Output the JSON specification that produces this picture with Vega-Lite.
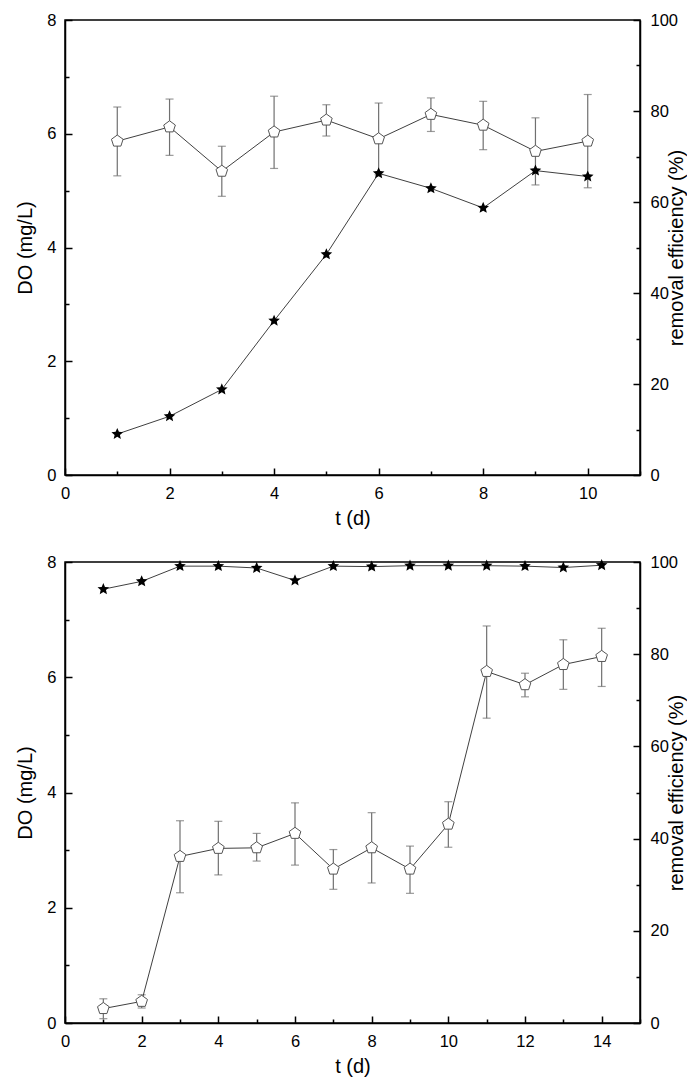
{
  "$schema": "https://vega.github.io/schema/vega-lite/v6.json",
  "padding": {"left": 14, "top": 11, "right": 0, "bottom": 0},
  "background": "white",
  "config": {
    "font": "Liberation Sans",
    "view": {"stroke": "black", "strokeWidth": 1.5},
    "axis": {
      "grid": false,
      "domainColor": "black",
      "domainWidth": 1.5,
      "tickColor": "black",
      "tickWidth": 1.5,
      "labelColor": "black",
      "labelFontSize": 16.5,
      "titleColor": "black",
      "titleFontSize": 20,
      "titleFontWeight": "normal",
      "labelFlush": false,
      "labelOverlap": false,
      "format": "d"
    }
  },
  "datasets": {
    "a": [
      {"t": 1, "DO": 5.87, "lo": 5.26, "hi": 6.47, "RE": 9.0},
      {"t": 2, "DO": 6.12, "lo": 5.62, "hi": 6.61, "RE": 12.9},
      {"t": 3, "DO": 5.34, "lo": 4.90, "hi": 5.78, "RE": 18.8},
      {"t": 4, "DO": 6.03, "lo": 5.39, "hi": 6.66, "RE": 33.9},
      {"t": 5, "DO": 6.24, "lo": 5.96, "hi": 6.51, "RE": 48.5},
      {"t": 6, "DO": 5.91, "lo": 5.28, "hi": 6.54, "RE": 66.3},
      {"t": 7, "DO": 6.34, "lo": 6.04, "hi": 6.63, "RE": 63.0},
      {"t": 8, "DO": 6.15, "lo": 5.72, "hi": 6.57, "RE": 58.7},
      {"t": 9, "DO": 5.69, "lo": 5.10, "hi": 6.28, "RE": 66.9},
      {"t": 10, "DO": 5.87, "lo": 5.05, "hi": 6.69, "RE": 65.6}
    ],
    "b": [
      {"t": 1, "DO": 0.25, "lo": 0.075, "hi": 0.42, "RE": 94.1},
      {"t": 2, "DO": 0.375, "lo": 0.26, "hi": 0.49, "RE": 95.8},
      {"t": 3, "DO": 2.89, "lo": 2.26, "hi": 3.51, "RE": 99.1},
      {"t": 4, "DO": 3.03, "lo": 2.57, "hi": 3.50, "RE": 99.1},
      {"t": 5, "DO": 3.04, "lo": 2.81, "hi": 3.29, "RE": 98.7},
      {"t": 6, "DO": 3.29, "lo": 2.74, "hi": 3.82, "RE": 96.0},
      {"t": 7, "DO": 2.67, "lo": 2.32, "hi": 3.01, "RE": 99.1},
      {"t": 8, "DO": 3.04, "lo": 2.43, "hi": 3.65, "RE": 99.0},
      {"t": 9, "DO": 2.67, "lo": 2.25, "hi": 3.07, "RE": 99.2},
      {"t": 10, "DO": 3.45, "lo": 3.05, "hi": 3.84, "RE": 99.2},
      {"t": 11, "DO": 6.10, "lo": 5.29, "hi": 6.89, "RE": 99.2},
      {"t": 12, "DO": 5.87, "lo": 5.66, "hi": 6.07, "RE": 99.1},
      {"t": 13, "DO": 6.22, "lo": 5.79, "hi": 6.65, "RE": 98.8},
      {"t": 14, "DO": 6.36, "lo": 5.84, "hi": 6.85, "RE": 99.3}
    ],
    "labA": [{"lab": "(a)"}],
    "labB": [{"lab": "(b)"}]
  },
  "spacing": 87,
  "bounds": "flush",
  "vconcat": [
    {
      "width": 575,
      "height": 455,
      "data": {"name": "a"},
      "encoding": {
        "x": {
          "field": "t", "type": "quantitative",
          "scale": {"domain": [0, 11], "nice": false, "zero": false},
          "axis": {
            "title": "t (d)",
            "values": [0, 1, 2, 3, 4, 5, 6, 7, 8, 9, 10, 11],
            "labelExpr": "datum.value % 2 === 0 && datum.value < 11 ? datum.label : ''",
            "tickSize": {"condition": {"test": "datum.value % 2 === 0", "value": -7}, "value": -4},
            "labelPadding": 17,
            "titlePadding": 4
          }
        }
      },
      "layer": [
        {
          "layer": [
            {
              "mark": {"type": "errorbar", "color": "#707070", "thickness": 1.2, "ticks": {"size": 8, "color": "#707070", "thickness": 1.2}},
              "encoding": {
                "y": {"field": "lo", "type": "quantitative", "scale": {"domain": [0, 8], "nice": false},
                  "axis": {"title": "DO (mg/L)", "orient": "left", "values": [0, 1, 2, 3, 4, 5, 6, 7, 8],
                    "labelExpr": "datum.value % 2 === 0 ? datum.label : ''",
                    "tickSize": {"condition": {"test": "datum.value % 2 === 0", "value": -7}, "value": -4},
                    "labelPadding": 16, "titleX": -40, "titleY": 227.5, "titleBaseline": "middle", "titleAlign": "center", "titleAngle": 270}},
                "y2": {"field": "hi"}
              }
            },
            {
              "mark": {"type": "line", "color": "#404040", "strokeWidth": 1},
              "encoding": {
                "y": {"field": "DO", "type": "quantitative", "scale": {"domain": [0, 8], "nice": false},
                  "axis": {"title": "DO (mg/L)", "orient": "left", "values": [0, 1, 2, 3, 4, 5, 6, 7, 8],
                    "labelExpr": "datum.value % 2 === 0 ? datum.label : ''",
                    "tickSize": {"condition": {"test": "datum.value % 2 === 0", "value": -7}, "value": -4},
                    "labelPadding": 16, "titleX": -40, "titleY": 227.5, "titleBaseline": "middle", "titleAlign": "center", "titleAngle": 270}}
              }
            },
            {
              "mark": {"type": "point", "shape": "M0,-1L0.951,-0.309L0.588,0.809L-0.588,0.809L-0.951,-0.309Z", "size": 150, "filled": true, "fill": "white", "stroke": "#555555", "strokeWidth": 1, "opacity": 1},
              "encoding": {
                "y": {"field": "DO", "type": "quantitative", "scale": {"domain": [0, 8], "nice": false},
                  "axis": {"title": "DO (mg/L)", "orient": "left", "values": [0, 1, 2, 3, 4, 5, 6, 7, 8],
                    "labelExpr": "datum.value % 2 === 0 ? datum.label : ''",
                    "tickSize": {"condition": {"test": "datum.value % 2 === 0", "value": -7}, "value": -4},
                    "labelPadding": 16, "titleX": -40, "titleY": 227.5, "titleBaseline": "middle", "titleAlign": "center", "titleAngle": 270}}
              }
            },
            {
              "data": {"name": "labA"},
              "mark": {"type": "text", "align": "left", "baseline": "top", "dx": 7, "dy": 6, "fontSize": 18, "color": "black"},
              "encoding": {
                "x": {"datum": 0, "type": "quantitative"},
                "y": {"datum": 8, "type": "quantitative"},
                "text": {"field": "lab"}
              }
            }
          ]
        },
        {
          "layer": [
            {
              "mark": {"type": "line", "color": "#404040", "strokeWidth": 1},
              "encoding": {
                "y": {"field": "RE", "type": "quantitative", "scale": {"domain": [0, 100], "nice": false},
                  "axis": {"title": "removal efficiency (%)", "orient": "right", "values": [0, 10, 20, 30, 40, 50, 60, 70, 80, 90, 100],
                    "labelExpr": "datum.value % 20 === 0 ? datum.label : ''",
                    "tickSize": {"condition": {"test": "datum.value % 20 === 0", "value": -7}, "value": -4},
                    "labelPadding": 17, "titleX": 36, "titleY": 227.5, "titleBaseline": "middle", "titleAlign": "center", "titleAngle": 270}}
              }
            },
            {
              "mark": {"type": "point", "shape": "M0,-1L0.27,-0.37L0.951,-0.309L0.435,0.141L0.588,0.809L0,0.46L-0.588,0.809L-0.435,0.141L-0.951,-0.309L-0.27,-0.37Z", "size": 150, "filled": true, "color": "black", "opacity": 1},
              "encoding": {
                "y": {"field": "RE", "type": "quantitative", "scale": {"domain": [0, 100], "nice": false},
                  "axis": {"title": "removal efficiency (%)", "orient": "right", "values": [0, 10, 20, 30, 40, 50, 60, 70, 80, 90, 100],
                    "labelExpr": "datum.value % 20 === 0 ? datum.label : ''",
                    "tickSize": {"condition": {"test": "datum.value % 20 === 0", "value": -7}, "value": -4},
                    "labelPadding": 17, "titleX": 36, "titleY": 227.5, "titleBaseline": "middle", "titleAlign": "center", "titleAngle": 270}}
              }
            }
          ]
        }
      ],
      "resolve": {"scale": {"y": "independent"}}
    },
    {
      "width": 575,
      "height": 461,
      "data": {"name": "b"},
      "encoding": {
        "x": {
          "field": "t", "type": "quantitative",
          "scale": {"domain": [0, 15], "nice": false, "zero": false},
          "axis": {
            "title": "t (d)",
            "values": [0, 1, 2, 3, 4, 5, 6, 7, 8, 9, 10, 11, 12, 13, 14, 15],
            "labelExpr": "datum.value % 2 === 0 ? datum.label : ''",
            "tickSize": {"condition": {"test": "datum.value % 2 === 0", "value": -7}, "value": -4},
            "labelPadding": 17,
            "titlePadding": 4
          }
        }
      },
      "layer": [
        {
          "layer": [
            {
              "mark": {"type": "errorbar", "color": "#707070", "thickness": 1.2, "ticks": {"size": 8, "color": "#707070", "thickness": 1.2}},
              "encoding": {
                "y": {"field": "lo", "type": "quantitative", "scale": {"domain": [0, 8], "nice": false},
                  "axis": {"title": "DO (mg/L)", "orient": "left", "values": [0, 1, 2, 3, 4, 5, 6, 7, 8],
                    "labelExpr": "datum.value % 2 === 0 ? datum.label : ''",
                    "tickSize": {"condition": {"test": "datum.value % 2 === 0", "value": -7}, "value": -4},
                    "labelPadding": 16, "titleX": -40, "titleY": 230.5, "titleBaseline": "middle", "titleAlign": "center", "titleAngle": 270}},
                "y2": {"field": "hi"}
              }
            },
            {
              "mark": {"type": "line", "color": "#404040", "strokeWidth": 1},
              "encoding": {
                "y": {"field": "DO", "type": "quantitative", "scale": {"domain": [0, 8], "nice": false},
                  "axis": {"title": "DO (mg/L)", "orient": "left", "values": [0, 1, 2, 3, 4, 5, 6, 7, 8],
                    "labelExpr": "datum.value % 2 === 0 ? datum.label : ''",
                    "tickSize": {"condition": {"test": "datum.value % 2 === 0", "value": -7}, "value": -4},
                    "labelPadding": 16, "titleX": -40, "titleY": 230.5, "titleBaseline": "middle", "titleAlign": "center", "titleAngle": 270}}
              }
            },
            {
              "mark": {"type": "point", "shape": "M0,-1L0.951,-0.309L0.588,0.809L-0.588,0.809L-0.951,-0.309Z", "size": 150, "filled": true, "fill": "white", "stroke": "#555555", "strokeWidth": 1, "opacity": 1},
              "encoding": {
                "y": {"field": "DO", "type": "quantitative", "scale": {"domain": [0, 8], "nice": false},
                  "axis": {"title": "DO (mg/L)", "orient": "left", "values": [0, 1, 2, 3, 4, 5, 6, 7, 8],
                    "labelExpr": "datum.value % 2 === 0 ? datum.label : ''",
                    "tickSize": {"condition": {"test": "datum.value % 2 === 0", "value": -7}, "value": -4},
                    "labelPadding": 16, "titleX": -40, "titleY": 230.5, "titleBaseline": "middle", "titleAlign": "center", "titleAngle": 270}}
              }
            },
            {
              "data": {"name": "labB"},
              "mark": {"type": "text", "align": "left", "baseline": "top", "dx": 7, "dy": 11, "fontSize": 18, "color": "black"},
              "encoding": {
                "x": {"datum": 0, "type": "quantitative"},
                "y": {"datum": 8, "type": "quantitative"},
                "text": {"field": "lab"}
              }
            }
          ]
        },
        {
          "layer": [
            {
              "mark": {"type": "line", "color": "#404040", "strokeWidth": 1},
              "encoding": {
                "y": {"field": "RE", "type": "quantitative", "scale": {"domain": [0, 100], "nice": false},
                  "axis": {"title": "removal efficiency (%)", "orient": "right", "values": [0, 10, 20, 30, 40, 50, 60, 70, 80, 90, 100],
                    "labelExpr": "datum.value % 20 === 0 ? datum.label : ''",
                    "tickSize": {"condition": {"test": "datum.value % 20 === 0", "value": -7}, "value": -4},
                    "labelPadding": 17, "titleX": 36, "titleY": 230.5, "titleBaseline": "middle", "titleAlign": "center", "titleAngle": 270}}
              }
            },
            {
              "mark": {"type": "point", "shape": "M0,-1L0.27,-0.37L0.951,-0.309L0.435,0.141L0.588,0.809L0,0.46L-0.588,0.809L-0.435,0.141L-0.951,-0.309L-0.27,-0.37Z", "size": 150, "filled": true, "color": "black", "opacity": 1},
              "encoding": {
                "y": {"field": "RE", "type": "quantitative", "scale": {"domain": [0, 100], "nice": false},
                  "axis": {"title": "removal efficiency (%)", "orient": "right", "values": [0, 10, 20, 30, 40, 50, 60, 70, 80, 90, 100],
                    "labelExpr": "datum.value % 20 === 0 ? datum.label : ''",
                    "tickSize": {"condition": {"test": "datum.value % 20 === 0", "value": -7}, "value": -4},
                    "labelPadding": 17, "titleX": 36, "titleY": 230.5, "titleBaseline": "middle", "titleAlign": "center", "titleAngle": 270}}
              }
            }
          ]
        }
      ],
      "resolve": {"scale": {"y": "independent"}}
    }
  ]
}
